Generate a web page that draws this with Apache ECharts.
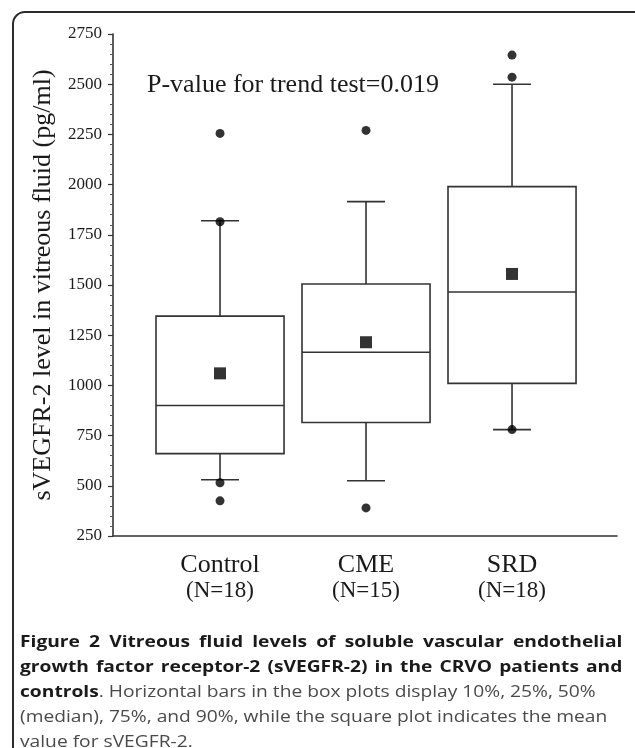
<!DOCTYPE html>
<html>
<head>
<meta charset="utf-8">
<script src="https://cdn.jsdelivr.net/npm/echarts@6/dist/echarts.min.js"></script>
<style>
  html, body { margin: 0; padding: 0; background: #fff; }
  .wrapper { position: relative; width: 635px; height: 748px; overflow: hidden; }
  .frame {
    position: absolute; left: 12px; top: 11px; width: 640px; height: 780px;
    border: 2px solid #2b2b2b; border-radius: 13px; box-sizing: border-box;
  }
  #chart { position: absolute; left: 0; top: 0; width: 635px; height: 748px; }
  .caption {
    position: absolute; left: 20px; top: 629px; width: 502px;
    transform: scaleX(1.2); transform-origin: 0 0;
    font-family: "Open Sans", sans-serif; font-size: 16px; line-height: 25px;
    color: #4a4a4a;
  }
  .caption div { white-space: nowrap; }
  .caption .just { text-align: justify; text-align-last: justify; }
  .caption b { color: #1a1a1a; }
</style>
</head>
<body>
<div class="wrapper">
  <div class="frame"></div>
  <div id="chart"></div>
  <div class="caption">
    <div class="just"><b>Figure 2 Vitreous fluid levels of soluble vascular endothelial</b></div>
    <div class="just"><b>growth factor receptor-2 (sVEGFR-2) in the CRVO patients and</b></div>
    <div><b>controls</b>. Horizontal bars in the box plots display 10%, 25%, 50%</div>
    <div>(median), 75%, and 90%, while the square plot indicates the mean</div>
    <div>value for sVEGFR-2.</div>
  </div>
</div>
<script>
// groups
var groups = ['Control', 'CME', 'SRD'];
var groupN = ['(N=18)', '(N=15)', '(N=18)'];

// percentiles: 10%, 25%, 50%, 75%, 90%
var p10 = [530, 525, 780];
var p25 = [660, 815, 1010];
var p50 = [900, 1165, 1465];
var p75 = [1345, 1505, 1990];
var p90 = [1820, 1915, 2500];

// means
var means = [1060, 1215, 1555];

// outlying points per group
var outControl = [2255, 1815, 515, 425];
var outCME = [2270, 390];
var outSRD = [2645, 2535, 780];

var yTicks = [250, 500, 750, 1000, 1250, 1500, 1750, 2000, 2250, 2500, 2750];

var boxData = [];
for (var i = 0; i < groups.length; i++) {
  boxData.push([i + 1, p10[i], p25[i], p50[i], p75[i], p90[i]]);
}
var meanData = means.map(function (m, i) { return [i + 1, m]; });
var outData = [];
[outControl, outCME, outSRD].forEach(function (arr, i) {
  arr.forEach(function (v) { outData.push([i + 1, v]); });
});

var chart = echarts.init(document.getElementById('chart'));
var lineColor = '#333';

function renderBox(params, api) {
  var x = api.value(0);
  var c = api.coord([x, api.value(3)]);
  var halfBox = api.size([0.877, 0])[0] / 2;
  var halfCap = api.size([0.26, 0])[0] / 2;
  var yLo = api.coord([x, api.value(1)])[1];
  var yQ1 = api.coord([x, api.value(2)])[1];
  var yMed = c[1];
  var yQ3 = api.coord([x, api.value(4)])[1];
  var yHi = api.coord([x, api.value(5)])[1];
  var cx = c[0];
  var st = { stroke: lineColor, lineWidth: 1.6, fill: null };
  return {
    type: 'group',
    children: [
      { type: 'line', shape: { x1: cx, y1: yHi, x2: cx, y2: yQ3 }, style: st },
      { type: 'line', shape: { x1: cx, y1: yQ1, x2: cx, y2: yLo }, style: st },
      { type: 'line', shape: { x1: cx - halfCap, y1: yHi, x2: cx + halfCap, y2: yHi }, style: st },
      { type: 'line', shape: { x1: cx - halfCap, y1: yLo, x2: cx + halfCap, y2: yLo }, style: st },
      { type: 'rect', shape: { x: cx - halfBox, y: yQ3, width: halfBox * 2, height: yQ1 - yQ3 }, style: { stroke: lineColor, lineWidth: 1.6, fill: '#fff' } },
      { type: 'line', shape: { x1: cx - halfBox, y1: yMed, x2: cx + halfBox, y2: yMed }, style: st }
    ]
  };
}

var option = {
  animation: false,
  title: {
    text: 'P-value for trend test=0.019',
    left: 142,
    top: 67,
    textStyle: {
      fontFamily: 'Liberation Serif',
      fontWeight: 'normal',
      fontSize: 26,
      color: '#1a1a1a'
    }
  },
  grid: { left: 113, right: 18, top: 34, bottom: 212 },
  xAxis: {
    type: 'value',
    min: 0.267,
    max: 3.719,
    splitLine: { show: false },
    axisLine: { show: true, lineStyle: { color: lineColor, width: 1.6 } },
    axisTick: { show: false },
    axisLabel: {
      customValues: [1, 2, 3],
      margin: 17,
      formatter: function (v) {
        var i = Math.round(v) - 1;
        return '{a|' + groups[i] + '}\n{b|' + groupN[i] + '}';
      },
      rich: {
        a: { fontFamily: 'Liberation Serif', fontSize: 26, color: '#1a1a1a', lineHeight: 25 },
        b: { fontFamily: 'Liberation Serif', fontSize: 23, color: '#1a1a1a', lineHeight: 25 }
      }
    }
  },
  yAxis: {
    type: 'value',
    min: 250,
    max: 2750,
    interval: 250,
    name: 'sVEGFR-2 level in vitreous fluid (pg/ml)',
    nameLocation: 'middle',
    nameGap: 57,
    nameTextStyle: { fontFamily: 'Liberation Serif', fontSize: 26, color: '#1a1a1a' },
    splitLine: { show: false },
    axisLine: { show: true, lineStyle: { color: lineColor, width: 1.6 } },
    axisTick: { show: true, length: 5, lineStyle: { color: lineColor, width: 1.2 } },
    minorTick: { show: true, splitNumber: 5, length: 3, lineStyle: { color: '#555', width: 1 } },
    axisLabel: {
      margin: 11,
      fontFamily: 'Liberation Serif',
      fontSize: 17,
      color: '#1a1a1a',
      formatter: function (v) { return yTicks.indexOf(v) >= 0 ? String(v) : ''; }
    }
  },
  series: [
    {
      name: 'box',
      type: 'custom',
      renderItem: renderBox,
      encode: { x: 0, y: [1, 2, 3, 4, 5] },
      data: boxData,
      z: 2
    },
    {
      name: 'mean',
      type: 'scatter',
      symbol: 'rect',
      symbolSize: 12,
      itemStyle: { color: '#000' },
      data: meanData,
      z: 5
    },
    {
      name: 'outliers',
      type: 'scatter',
      symbol: 'circle',
      symbolSize: 9,
      itemStyle: { color: '#000' },
      data: outData,
      z: 5
    }
  ]
};

option && chart.setOption(option);
</script>
</body>
</html>
